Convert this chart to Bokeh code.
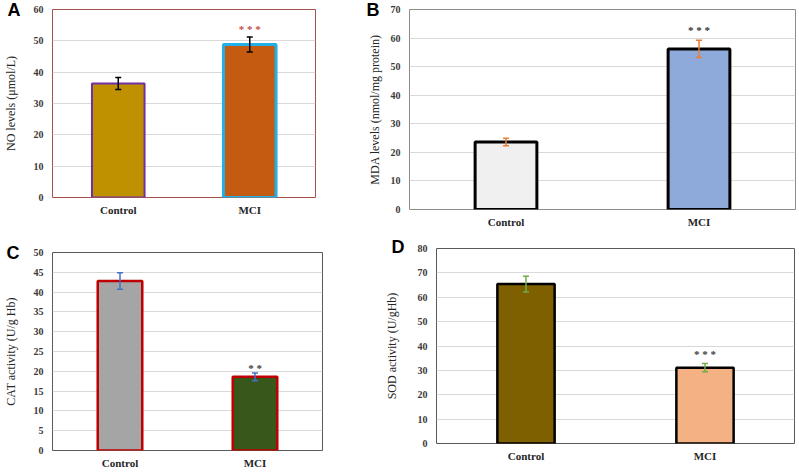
from bokeh.plotting import figure
from bokeh.models import Range1d, FactorRange, FixedTicker, Whisker, TeeHead, ColumnDataSource, Label
from bokeh.layouts import column, row
from bokeh.core.properties import value
from bokeh.embed import file_html
from bokeh.resources import INLINE

categories = ["Control", "MCI"]

no_levels = [36.4, 48.8]
no_err = [1.9, 2.4]
no_sig = ["", "* * *"]

mda_levels = [23.6, 56.2]
mda_err = [1.3, 3.0]
mda_sig = ["", "* * *"]

cat_activity = [42.8, 18.6]
cat_err = [2.1, 1.0]
cat_sig = ["", "* *"]

sod_activity = [65.4, 31.1]
sod_err = [3.2, 1.7]
sod_sig = ["", "* * *"]

SERIF = "Liberation Serif"
SANS = "Liberation Sans"


def panel(letter, vals, errs, sig, ymax, ystep, ytitle, fills, outlines, owidths,
          bar_w, err_color, star_color, star_off, frame_color,
          width, height, bl, br, bt, bb, title_standoff, letter_dx, letter_dy, letter_side):
    p = figure(width=width, height=height, x_range=FactorRange(*categories),
               y_range=Range1d(0, ymax), output_backend="svg", toolbar_location=None,
               min_border_left=bl, min_border_right=br, min_border_top=bt, min_border_bottom=bb)
    p.background_fill_color = "white"
    p.border_fill_color = "white"
    p.outline_line_color = frame_color
    p.outline_line_width = 1
    p.xgrid.grid_line_color = None
    p.ygrid.grid_line_color = "#d9d9d9"
    p.ygrid.grid_line_width = 1
    p.yaxis.ticker = FixedTicker(ticks=list(range(0, ymax + 1, ystep)))
    for ax in (p.xaxis, p.yaxis):
        ax.axis_line_color = None
        ax.major_tick_line_color = None
        ax.minor_tick_line_color = None
        ax.major_tick_out = 0
        ax.major_tick_in = 0
        ax.minor_tick_out = 0
        ax.minor_tick_in = 0
        ax.major_label_text_font = SERIF
        ax.major_label_text_font_style = "bold"
    p.yaxis.major_label_text_font_size = "10px"
    p.yaxis.major_label_text_color = "#3a3a3a"
    p.yaxis.major_label_standoff = 9
    p.xaxis.major_label_text_font_size = "11px"
    p.xaxis.major_label_text_color = "#262626"
    p.xaxis.major_label_standoff = 6
    p.yaxis.axis_label = ytitle
    p.yaxis.axis_label_text_font = SERIF
    p.yaxis.axis_label_text_font_style = "normal"
    p.yaxis.axis_label_text_font_size = "12px"
    p.yaxis.axis_label_text_color = "#262626"
    p.yaxis.axis_label_standoff = title_standoff

    upper = [v + e for v, e in zip(vals, errs)]
    lower = [v - e for v, e in zip(vals, errs)]
    src = ColumnDataSource(dict(x=categories, top=vals, fill=fills, line=outlines,
                                lw=owidths, upper=upper, lower=lower, sig=sig))
    p.vbar(x="x", top="top", bottom=0, width=bar_w, source=src, fill_color="fill",
           line_color="line", line_width="lw")
    w = Whisker(source=src, base="x", upper="upper", lower="lower", line_color=err_color,
                line_width=1.5, level="annotation",
                upper_head=TeeHead(size=6, line_color=err_color, line_width=1.5),
                lower_head=TeeHead(size=6, line_color=err_color, line_width=1.5))
    p.add_layout(w)
    p.text(x="x", y="upper", text="sig", source=src, text_align="center",
           text_baseline="middle", y_offset=star_off, text_color=star_color,
           text_font=value(SERIF), text_font_size="11px", text_font_style="bold")
    # panel letter: anchored at the frame's top-left corner, kept in a side panel
    p.add_layout(Label(x=0, y=ymax, x_units="data", y_units="data",
                       x_offset=letter_dx, y_offset=letter_dy,
                       text=letter, text_font=SANS, text_font_style="bold",
                       text_font_size="18px", text_baseline="top", text_align="left",
                       text_color="black"), letter_side)
    return p


pA = panel("A", no_levels, no_err, no_sig, 60, 10, "NO levels (μmol/L)",
           ["#bf9000", "#c55a11"], ["#7030a0", "#22b0e8"], [2, 3], 0.40,
           "black", "#c0504d", -8.5, "#a5514d",
           339, 230, 52, 24, 9, 33, 13, -45, 10, "right")
pB = panel("B", mda_levels, mda_err, mda_sig, 70, 10, "MDA levels (nmol/mg protein)",
           ["#f0f0f0", "#8eaadb"], ["black", "black"], [3, 3], 0.32,
           "#ed7d31", "#333333", -10, "#8c8c8c",
           460, 230, 70, 4, 9, 21, 6, -43, 10, "left")
pC = panel("C", cat_activity, cat_err, cat_sig, 50, 5, "CAT activity (U/g Hb)",
           ["#a5a5a5", "#38571a"], ["#c00000", "#c00000"], [2.5, 2.5], 0.33,
           "#4472c4", "#404040", -5, "#595959",
           360, 242, 52, 38, 22, 22, 13, -46, 10, "right")
pD = panel("D", sod_activity, sod_err, sod_sig, 80, 10, "SOD activity (U/gHb)",
           ["#7f6000", "#f4b183"], ["black", "black"], [2.5, 2.5], 0.32,
           "#70ad47", "#404040", -9.5, "#595959",
           439, 242, 76, 5, 18, 29, 16, -45, 12, "left")

layout = column(row(column(pA), column(pB)), row(column(pC), column(pD)))
open("out.html", "w").write(file_html(layout, INLINE))
